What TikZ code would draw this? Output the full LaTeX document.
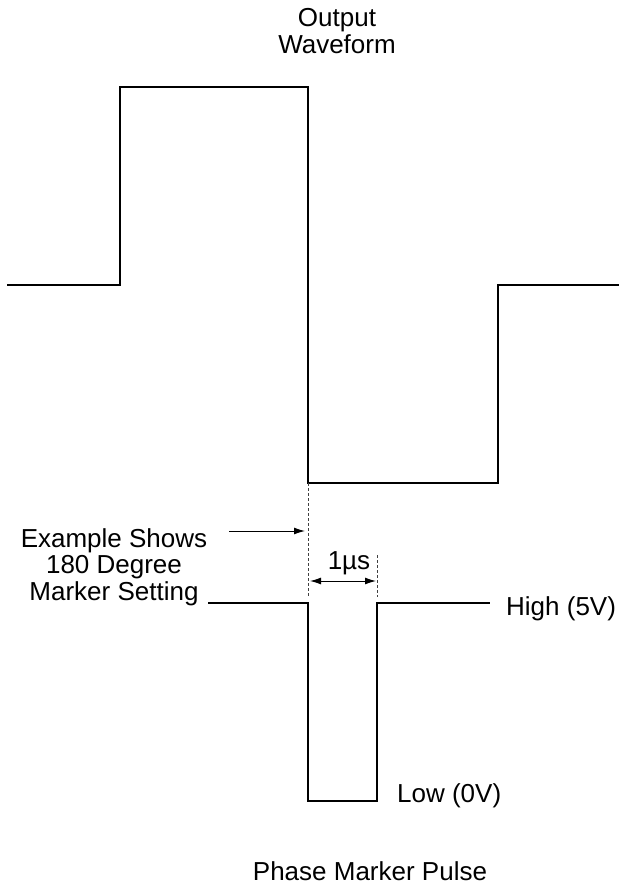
\documentclass[tikz,border=0pt]{standalone}
\usepackage{fontspec}
\setmainfont{Liberation Sans}
\usepackage{tikz}
\usetikzlibrary{positioning, calc, arrows.meta}

\begin{document}
\begin{tikzpicture}[x=1pt,y=-1pt,
    wave/.style={line width=2pt, line join=miter},
    guide/.style={line width=0.9pt, densely dashed, black!75},
    callout/.style={line width=1pt, -{Latex[length=11pt,width=7pt]}},
    span/.style={line width=1pt, {Latex[length=11pt,width=7pt]}-{Latex[length=11pt,width=7pt]}},
    lbl/.style={inner sep=0pt, font=\fontsize{26}{26.5}\selectfont, align=center}]

    \useasboundingbox (0,0) rectangle (619,884);

    % --- Output Waveform: low, high, low, back to mid level ---
    \coordinate (owStart) at (7,285);
    \coordinate (owRise)  at (120,285);
    \coordinate (owTop)   at (120,87);
    \coordinate (owFall)  at (308,87);
    \coordinate (owLow)   at (308,483);
    \coordinate (owBack)  at (498,483);
    \coordinate (owMid)   at (498,285);
    \coordinate (owEnd)   at (619,285);
    \draw[wave] (owStart) -- (owRise) -- (owTop) -- (owFall)
                -- (owLow) -- (owBack) -- (owMid) -- (owEnd);

    % base anchor sits on the last line
    \node[lbl, anchor=base] (owTitle) at (337,53) {Output\\Waveform};

    % --- Phase Marker Pulse: 1 us low pulse at the 180 degree edge ---
    \coordinate (pmStart) at (208,603);
    \coordinate (pmFall)  at (308,603);
    \coordinate (pmLowA)  at (308,801);
    \coordinate (pmLowB)  at (377,801);
    \coordinate (pmRise)  at (377,603);
    \coordinate (pmEnd)   at (490,603);
    \draw[wave] (pmStart) -- (pmFall) -- (pmLowA) -- (pmLowB) -- (pmRise) -- (pmEnd);

    % --- Dashed guides from the edges ---
    \coordinate (guideA) at (308,597);
    \coordinate (guideB) at (377,597);
    \coordinate (guideBtop) at (377,555);
    \draw[guide] (owLow) -- (guideA);
    \draw[guide] (guideBtop) -- (guideB);

    % --- Marker setting callout ---
    \node[lbl, anchor=base] (setting) at (114,600) {Example Shows\\180 Degree\\Marker Setting};
    \coordinate (calloutTail) at (229,531);
    \coordinate (calloutTip)  at (305,531);
    \draw[callout] (calloutTail) -- (calloutTip);

    % --- Pulse width ---
    \coordinate (widthL) at (310,581);
    \coordinate (widthR) at (376,581);
    \draw[span] (widthL) -- (widthR);
    \node[lbl, anchor=base] (width) at (349,569) {1µs};

    % --- Level labels ---
    \node[lbl, anchor=base west] (high) at (506,615) {High (5V)};
    \node[lbl, anchor=base west] (low)  at (397,802) {Low (0V)};

    \node[lbl, anchor=base] (pmTitle) at (370,880) {Phase Marker Pulse};

\end{tikzpicture}
\end{document}
